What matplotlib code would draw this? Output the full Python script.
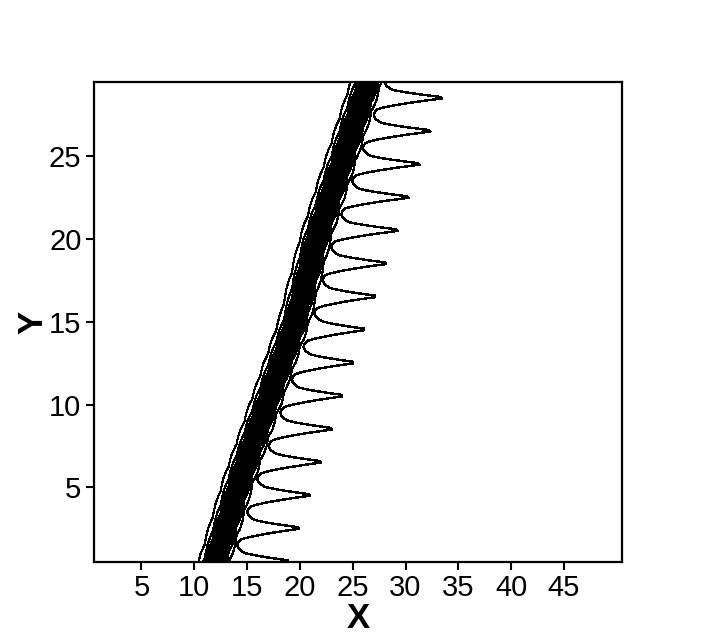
import numpy as np
import matplotlib
matplotlib.use('Agg')
import matplotlib.pyplot as plt

plt.rcParams['font.family'] = ['Liberation Sans', 'DejaVu Sans']

# front centre line (middle of the dense band)
front_y = [0.5, 5.4, 15.1, 20.1, 29.5]
front_x = [11.9, 14.2, 19.5, 21.5, 26.3]

# tips of the spikes on the outer contour
spike_y = [0.5, 2.5, 4.5, 6.5, 8.5, 10.5, 12.5, 14.5, 16.5, 18.5, 20.5, 22.5, 24.5, 26.5, 28.5]
spike_tip_x = [18.9, 19.9, 20.95, 21.97, 23.02, 24.0, 25.04, 26.08, 27.13, 28.17,
               29.28, 30.29, 31.33, 32.35, 33.46]

trough_gap = 1.7     # gap between front centre and outer contour between spikes
trough_curv = 3.0
trough_below_tip = 0.9

x_ticks = [5, 10, 15, 20, 25, 30, 35, 40, 45]
y_ticks = [5, 10, 15, 20, 25]

spike_y = np.array(spike_y)
spike_tip_x = np.array(spike_tip_x)

fig = plt.figure(figsize=(7.13, 6.34), dpi=100)
ax = fig.add_axes([0.1318, 0.1136, 0.7406, 0.7571])

# dense band: step across the front on a coarse grid
xg = np.arange(0.5, 50.51, 0.75)
yg = np.linspace(0.5, 29.5, 59)
XG, YG = np.meshgrid(xg, yg)
zg = XG - np.interp(YG, front_y, front_x)
z0 = 0.2
w = np.where(zg < z0, 0.92, 0.65)
u = 0.5 * (1 - np.tanh((zg - z0) / w))
ax.contour(XG, YG, u, levels=np.linspace(0.03, 0.97, 26), colors='k',
           linewidths=0.8, antialiased=False)

# outer spiky contour
yf = np.linspace(0.5, 29.5, 2901)
xf = np.arange(0.5, 50.51, 0.05)
cf = np.interp(yf, front_y, front_x)
t = ((yf - (spike_y[0] - trough_below_tip) + 1.0) % 2.0) - 1.0
base = trough_gap + trough_curv * t ** 2
tip_len = spike_tip_x - np.interp(spike_y, front_y, front_x) - trough_gap \
    - trough_curv * trough_below_tip ** 2
dy = yf[:, None] - spike_y[None, :]
h = np.where(dy > 0, 0.55, 0.65)
needle = (tip_len[None, :] * np.clip(1 - np.abs(dy) / h, 0, None) ** 1.3).max(axis=1)
edge = cf + base + needle
XF, YF = np.meshgrid(xf, yf)
ax.contour(XF, YF, XF - edge[:, None], levels=[0], colors='k', linewidths=1.0,
           antialiased=False)

ax.set_xlim(0.5, 50.5)
ax.set_ylim(0.5, 29.5)
ax.set_xticks(x_ticks)
ax.set_yticks(y_ticks)
ax.tick_params(direction='out', length=6, width=1.5, labelsize=21, pad=3)
for s in ax.spines.values():
    s.set_linewidth(1.6)
ax.set_xlabel('X', fontsize=25, fontweight='bold', labelpad=0)
ax.set_ylabel('Y', fontsize=25, fontweight='bold', labelpad=0)

fig.savefig('out.png', dpi=100)
